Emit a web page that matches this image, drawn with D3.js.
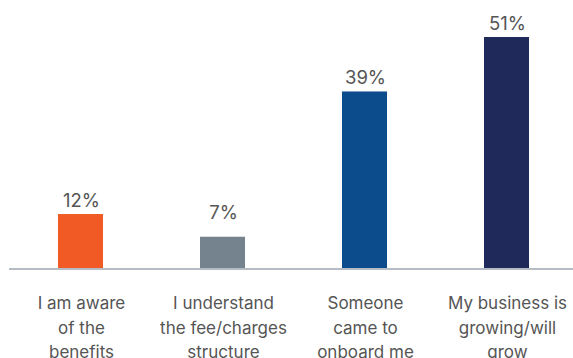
<!DOCTYPE html>
<html>
<head>
<meta charset="utf-8">
<script src="https://cdn.jsdelivr.net/npm/d3@7"></script>
<style>
  body { margin: 0; background: #fff; }
  text { font-family: Inter, "Noto Sans", sans-serif; fill: #555; }
</style>
</head>
<body>
<script>
var categories = [
    ['I am aware', 'of the', 'benefits'],
    ['I understand', 'the fee/charges', 'structure'],
    ['Someone', 'came to', 'onboard me'],
    ['My business is', 'growing/will', 'grow']
];
var values = [12, 7, 39, 51];
var colors = ['#f15a24', '#75838f', '#0d4c8c', '#1f2a5b'];

var width = 573, height = 358;

var svg = d3.select('body').append('svg')
    .attr('width', width)
    .attr('height', height);

var x = d3.scaleBand()
    .domain(d3.range(values.length))
    .range([9.5, 577.5])
    .paddingInner(0.683)
    .paddingOuter(0.3415);

var y = d3.scaleLinear()
    .domain([0, 51])
    .range([268.5, 37]);

// bars
svg.selectAll('.bar')
    .data(values)
    .enter()
    .append('rect')
    .attr('class', 'bar')
    .attr('x', (d, i) => x(i))
    .attr('y', (d) => y(d))
    .attr('width', x.bandwidth())
    .attr('height', (d) => y(0) - y(d))
    .attr('fill', (d, i) => colors[i]);

// baseline
svg.append('line')
    .attr('x1', 9)
    .attr('x2', width)
    .attr('y1', y(0) + 0.5)
    .attr('y2', y(0) + 0.5)
    .attr('stroke', '#b5bcc4')
    .attr('stroke-width', 2);

// value labels (short bars get their label lifted a bit)
svg.selectAll('.val')
    .data(values)
    .enter()
    .append('text')
    .attr('class', 'val')
    .attr('x', (d, i) => x(i) + x.bandwidth() / 2 + 1)
    .attr('y', (d) => Math.min(y(d) - 7, y(0) - 50))
    .attr('text-anchor', 'middle')
    .attr('font-size', '18.5px')
    .text((d) => d + '%');

// category labels
var cat = svg.selectAll('.cat')
    .data(categories)
    .enter()
    .append('text')
    .attr('class', 'cat')
    .attr('text-anchor', 'middle')
    .attr('font-size', '17px');

cat.selectAll('tspan')
    .data((d, i) => d.map((t) => ({ t: t, i: i })))
    .enter()
    .append('tspan')
    .attr('x', (d) => x(d.i) + x.bandwidth() / 2 + 1)
    .attr('y', (d, j) => 309 + j * 24.5)
    .text((d) => d.t);
</script>
</body>
</html>
